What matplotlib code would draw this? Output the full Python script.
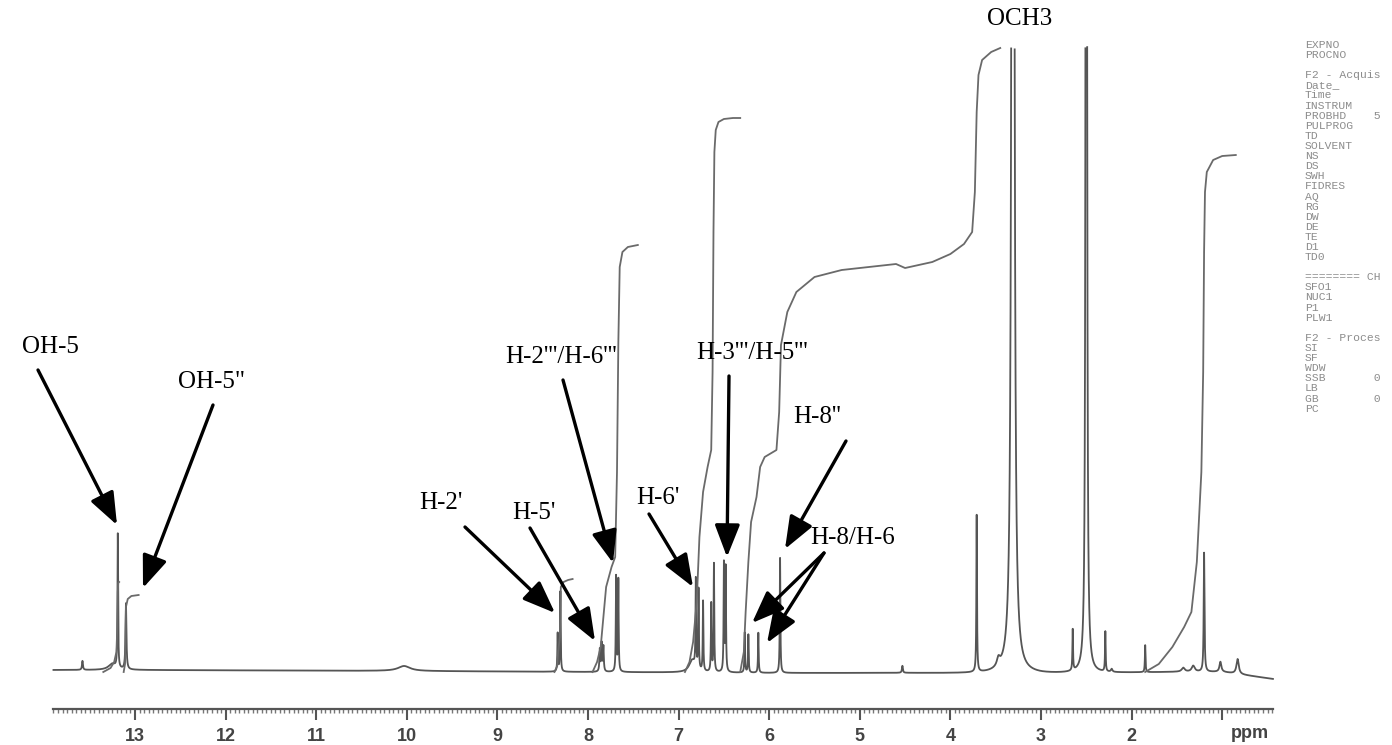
import numpy as np
import matplotlib
matplotlib.use("Agg")
import matplotlib.pyplot as plt
from matplotlib.ticker import FixedLocator, FixedFormatter

# ---------------- data ----------------
peak_ppm = [13.58, 13.25, 13.19, 13.10, 10.03, 8.335, 8.305, 7.87, 7.85, 7.83,
            7.69, 7.665, 6.85, 6.81, 6.78, 6.73, 6.64, 6.61, 6.50, 6.48,
            6.27, 6.23, 6.12, 5.88, 4.53, 3.71, 3.47, 3.31, 2.65, 2.50,
            2.29, 2.22, 1.85, 1.43, 1.32, 1.20, 1.02, 0.83]
peak_height = [9, 6, 134, 66, 5, 38, 80, 22, 28, 25,
               95, 92, 12, 88, 80, 70, 68, 108, 108, 104,
               40, 38, 40, 115, 7, 157, 8, 5000, 41, 4000,
               40, 3, 27, 4, 6, 119, 10, 15]
peak_hwhm = [0.006, 0.05, 0.004, 0.006, 0.08, 0.004, 0.004, 0.005, 0.005, 0.005,
             0.004, 0.004, 0.04, 0.004, 0.004, 0.004, 0.004, 0.004, 0.004, 0.004,
             0.004, 0.004, 0.004, 0.004, 0.006, 0.004, 0.02, 0.0073, 0.004, 0.0042,
             0.004, 0.01, 0.004, 0.02, 0.02, 0.005, 0.012, 0.015]

baseline_ppm = [13.9, 13.0, 10.0, 8.0, 6.0, 4.5, 3.0, 1.5, 1.0, 0.6, 0.44]
baseline_off = [2, 2, 1, 0, -1, -1, -2, 0, 0, -5, -7]

# integral traces (ppm, level)
int_oh5_ppm = [13.35, 13.27, 13.23, 13.205, 13.195, 13.19, 13.185, 13.175]
int_oh5_lvl = [0, 4, 10, 20, 45, 80, 89, 90]
int_oh5b_ppm = [13.125, 13.11, 13.105, 13.10, 13.08, 13.04, 12.96]
int_oh5b_lvl = [0, 8, 30, 65, 73, 76, 77]
int_h2_ppm = [8.37, 8.34, 8.33, 8.31, 8.30, 8.27, 8.22, 8.17]
int_h2_lvl = [0, 6, 20, 35, 85, 90, 92, 93]
int_h26_ppm = [7.95, 7.90, 7.86, 7.83, 7.80, 7.74, 7.70, 7.68, 7.665, 7.65, 7.62, 7.56, 7.45]
int_h26_lvl = [0, 10, 25, 55, 85, 105, 115, 200, 330, 405, 420, 425, 427]
int_h35_ppm = [6.93, 6.88, 6.84, 6.80, 6.77, 6.73, 6.68, 6.64, 6.625, 6.615, 6.605, 6.59, 6.56, 6.50, 6.40, 6.32]
int_h35_lvl = [0, 10, 30, 70, 135, 180, 205, 222, 300, 440, 520, 542, 550, 553, 554, 554]
int_h8_ppm = [6.32, 6.28, 6.26, 6.23, 6.20, 6.14, 6.10, 6.05, 5.92, 5.89, 5.87, 5.80, 5.70,
              5.5, 5.2, 4.8, 4.6, 4.5, 4.35, 4.2, 4.0, 3.85, 3.76, 3.73, 3.71, 3.69, 3.65, 3.55, 3.45]
int_h8_lvl = [0, 20, 60, 110, 150, 175, 205, 215, 222, 260, 327, 360, 380,
              395, 402, 406, 408, 404, 407, 410, 418, 428, 440, 480, 560, 597, 612, 620, 624]
int_ali_ppm = [1.85, 1.70, 1.55, 1.42, 1.34, 1.28, 1.23, 1.21, 1.20, 1.19, 1.17, 1.10, 1.00, 0.85]
int_ali_lvl = [0, 8, 25, 45, 60, 110, 200, 300, 420, 480, 500, 512, 516, 517]

major_ticks = [13, 12, 11, 10, 9, 8, 7, 6, 5, 4, 3, 2, 1]
major_labels = ["13", "12", "11", "10", "9", "8", "7", "6", "5", "4", "3", "2", ""]

param_lines = ["EXPNO", "PROCNO", "", "F2 - Acquis", "Date_", "Time",
               "INSTRUM", "PROBHD    5", "PULPROG", "TD", "SOLVENT", "NS", "DS",
               "SWH", "FIDRES", "AQ", "RG", "DW", "DE", "TE", "D1", "TD0", "",
               "======== CH", "SFO1", "NUC1", "P1", "PLW1", "",
               "F2 - Proces", "SI", "SF", "WDW", "SSB       0", "LB",
               "GB        0", "PC"]

# ---------------- helpers for pixel-based placement ----------------
W, H = 1392, 745
def px2ppm(x):
    return 13.0 - (x - 135.0) / 90.6
def py2lvl(y):
    return 672.0 - y

fig = plt.figure(figsize=(W / 100, H / 100), dpi=100)
ax = fig.add_axes([0, 0, 1, 1])
ax.set_xlim(px2ppm(0), px2ppm(W))
ax.set_ylim(py2lvl(H), py2lvl(0))

# spectrum
x = np.linspace(13.9, 0.44, 240000)
y = np.interp(x, baseline_ppm[::-1], baseline_off[::-1])
for p, h, g in zip(peak_ppm, peak_height, peak_hwhm):
    y = y + h / (1.0 + ((x - p) / g) ** 2)
ytop = py2lvl(47)
y = np.where(y > ytop, np.nan, y)
spec_col = "#555555"
ax.plot(x, y, color=spec_col, lw=1.3, solid_joinstyle="round")

# integrals
for ip, il in [(int_oh5_ppm, int_oh5_lvl), (int_oh5b_ppm, int_oh5b_lvl),
               (int_h2_ppm, int_h2_lvl), (int_h26_ppm, int_h26_lvl),
               (int_h35_ppm, int_h35_lvl), (int_h8_ppm, int_h8_lvl),
               (int_ali_ppm, int_ali_lvl)]:
    ax.plot(ip, il, color="#6a6a6a", lw=1.3)

# axis
for s in ["top", "left", "right"]:
    ax.spines[s].set_visible(False)
ax.spines["bottom"].set_position(("data", py2lvl(709)))
ax.spines["bottom"].set_bounds(13.9, 0.44)
ax.spines["bottom"].set_color("#555555")
ax.spines["bottom"].set_linewidth(1.6)
ax.xaxis.set_major_locator(FixedLocator(major_ticks))
ax.xaxis.set_major_formatter(FixedFormatter(major_labels))
ax.xaxis.set_minor_locator(FixedLocator(list(np.arange(0.45, 13.91, 0.05))))
ax.tick_params(axis="x", which="major", direction="out", length=8, width=1.5,
               colors="#555555", labelsize=13, pad=6, labelcolor="#444444")
ax.tick_params(axis="x", which="minor", direction="out", length=3, width=1.0, colors="#777777")
ax.set_yticks([])
for lab in ax.get_xticklabels():
    lab.set_fontfamily("Liberation Sans")
    lab.set_fontweight("bold")
ax.text(0.69, py2lvl(733), "ppm", ha="center", va="center", fontsize=13,
        color="#444444", family="Liberation Sans", fontweight="bold")

# labels and arrows
serif = "Liberation Serif"
fs = 18
def label(txt, xp, yp):
    ax.text(px2ppm(xp), py2lvl(yp), txt, ha="center", va="center",
            fontsize=fs, family=serif, color="black")
def arrow(x0, y0, x1, y1):
    ax.annotate("", xy=(px2ppm(x1), py2lvl(y1)), xytext=(px2ppm(x0), py2lvl(y0)),
                arrowprops=dict(arrowstyle="-|>,head_length=0.9,head_width=0.35",
                                lw=2.4, color="black", shrinkA=0, shrinkB=0,
                                mutation_scale=22))

label("OCH3", 1020, 19)
label("OH-5", 50, 347)
arrow(38, 370, 117, 525)
label('OH-5"', 212, 382)
arrow(213, 405, 143, 588)
label("H-2'''/H-6'''", 561, 357)
arrow(563, 380, 613, 563)
label("H-3'''/H-5'''", 752, 353)
arrow(729, 376, 727, 557)
label("H-8''", 817, 417)
arrow(846, 441, 785, 549)
label("H-2'", 441, 503)
arrow(465, 527, 555, 613)
label("H-5'", 534, 513)
arrow(530, 528, 595, 641)
label("H-6'", 658, 498)
arrow(649, 514, 693, 587)
label("H-8/H-6", 853, 538)
arrow(824, 553, 752, 623)
arrow(824, 553, 767, 643)

# acquisition parameter column
for i, t in enumerate(param_lines):
    yy = 45 + i * 10.1
    fig.text(1305 / W, 1 - yy / H, t, fontsize=8.2, family="Liberation Mono",
             color="#8c8c8c", va="center", ha="left")

fig.savefig("out.png", dpi=100)
